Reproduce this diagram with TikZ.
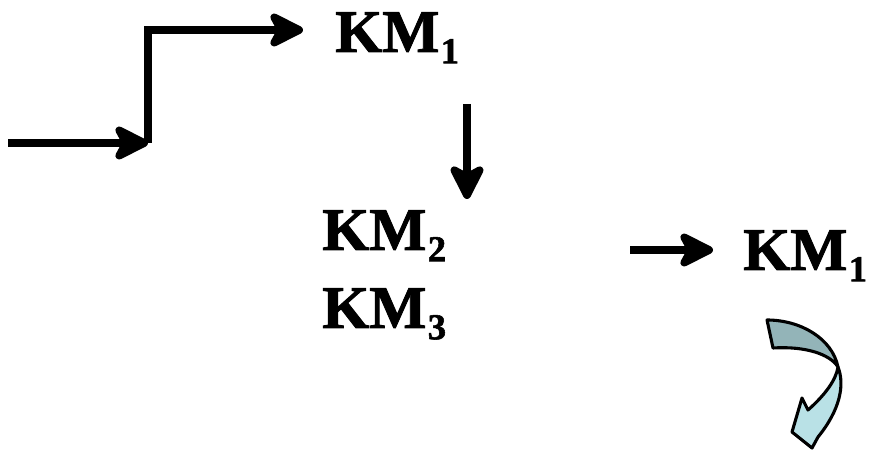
\documentclass[tikz,border=0pt]{standalone}
\usepackage{fontspec}
\setmainfont{Liberation Serif}[BoldFeatures={FakeBold=1.5}]
\usetikzlibrary{arrows.meta, calc}

\newcommand{\kmlabel}[1]{KM\kern1pt\raisebox{-8pt}{\fontsize{26}{26}\selectfont #1}}

\begin{document}
\begin{tikzpicture}[x=0.025cm, y=-0.025cm,
    km/.style={inner sep=0, anchor=base west, font=\fontsize{43}{48}\selectfont\bfseries},
    arr/.style={line width=6pt, -{Stealth[round, length=30pt, width=30pt, inset=8pt]}},
    ribbon/.style={draw=black, line width=2.2pt, line join=round}]
  \useasboundingbox (0,0) rectangle (872,457);

  \node[km] (km1) at (335,52) {\kmlabel{1}};
  \node[km] (km2) at (322,250) {\kmlabel{2}};
  \node[km] (km3) at (322,328) {\kmlabel{3}};
  \node[km] (km1b) at (743,270) {\kmlabel{1}};

  \coordinate (start) at (8,143);
  \coordinate (bend) at (148,143);
  \coordinate (step) at (148,30);
  \coordinate (down1) at (467,104);
  \coordinate (down2) at (467,199);
  \coordinate (right0) at (630,250);

  \draw[arr] (start) -- (bend);
  \draw[line width=6pt] (bend) -- (step) -- ++(-4,0);
  \draw[arr, shorten >=0.8cm] (step) -- (step -| km1.west);
  \draw[arr] (down1) -- (down2);
  \draw[arr, shorten >=0.75cm] (right0) -- (right0 -| km1b.west);

  % curved arrow under KM1
  \filldraw[ribbon, fill={rgb,255:red,147;green,180;blue,184}]
    (767,320) .. controls (800,320) and (832,338) .. (838,367)
    .. controls (830,354) and (805,346) .. (773,348) -- cycle;
  \filldraw[ribbon, fill={rgb,255:red,185;green,225;blue,230}]
    (838,367) .. controls (845,385) and (840,410) .. (818,437)
    -- (812,448) -- (792,432) -- (802,398) -- (808,410)
    .. controls (825,395) and (836,380) .. cycle;
\end{tikzpicture}
\end{document}
